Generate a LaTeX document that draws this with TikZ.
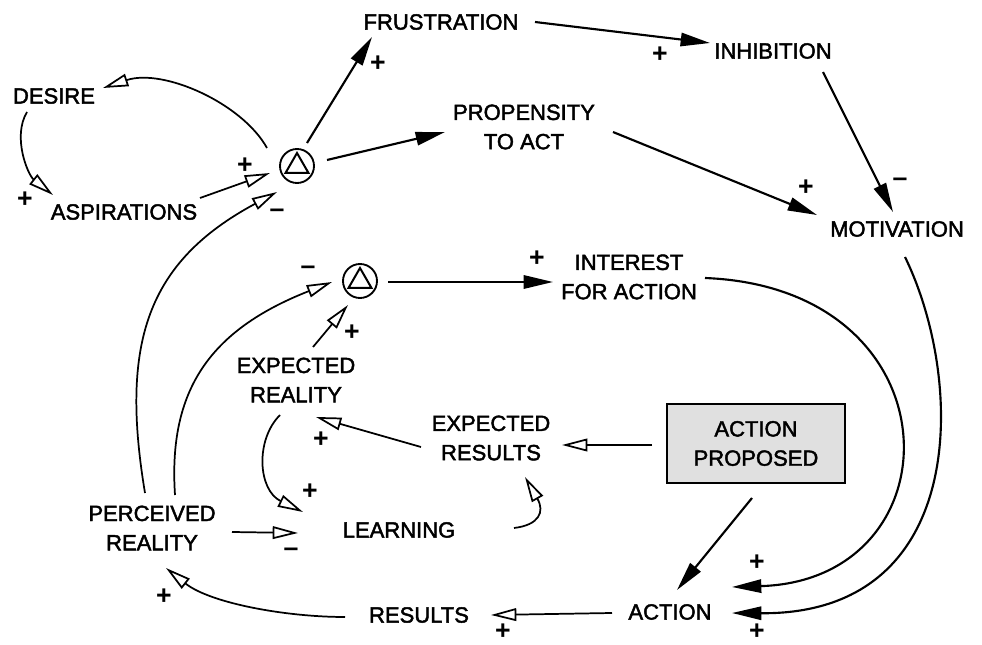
\documentclass[tikz,border=0pt]{standalone}
\usepackage{fontspec}
\setmainfont{Liberation Sans}
\newfontfamily\labelfont{Liberation Sans}[FakeBold=2]
\usetikzlibrary{arrows.meta}
\begin{document}
\begin{tikzpicture}[x=0.75pt,y=-0.75pt,
  lbl/.style={inner sep=0pt, font=\labelfont\fontsize{16.5}{22}\selectfont, align=center},
  sgn/.style={inner sep=0pt, font=\fontsize{20}{20}\selectfont\bfseries},
  box/.style={lbl, draw, line width=1.6pt, fill=black!12,
    minimum width=133.5pt, minimum height=59pt},
  cmp/.style={circle, draw, line width=1.4pt, minimum size=25.5pt, inner sep=0pt,
    path picture={\draw[line width=1.5pt, line join=miter]
      ([shift={(-11.5,7)}]path picture bounding box.center) --
      ([shift={(11.5,7)}]path picture bounding box.center) --
      ([shift={(0,-13)}]path picture bounding box.center) -- cycle;}},
  fa/.style={line width=1.6pt, -{Triangle[length=22pt,width=10pt]}},
  ha/.style={line width=1.3pt, -{Triangle[open,length=19pt,width=9.5pt,fill=white]}},
]
\fill[white] (0,0) rectangle (982,645);
\useasboundingbox (0,0) rectangle (982,645);

% variables
\node[lbl] (desire) at (54,96) {DESIRE};
\node[lbl] (asp) at (124,212) {ASPIRATIONS};
\node[cmp] (c1) at (297,166) {};
\node[lbl] (frus) at (441,22) {FRUSTRATION};
\node[lbl] (inhib) at (773,51) {INHIBITION};
\node[lbl] (prop) at (524,127) {PROPENSITY\\TO ACT};
\node[lbl] (motiv) at (897,229) {MOTIVATION};
\node[cmp] (c2) at (360,281) {};
\node[lbl] (interest) at (629,277) {INTEREST\\FOR ACTION};
\node[lbl] (exreal) at (296,380) {EXPECTED\\REALITY};
\node[lbl] (exres) at (491,438) {EXPECTED\\RESULTS};
\node[box] (ap) at (756,443.5) {ACTION\\PROPOSED};
\node[lbl] (perc) at (152,528) {PERCEIVED\\REALITY};
\node[lbl] (learn) at (399,530) {LEARNING};
\node[lbl] (results) at (419,615) {RESULTS};
\node[lbl] (action) at (670,612) {ACTION};

% causal links with solid heads
\draw[fa] ([shift={(10,-23)}]c1.center) -- ([shift={(-69,15)}]frus.center);
\draw[fa] ([shift={(30,-6)}]c1.center) -- ([shift={(-79,5)}]prop.center);
\draw[fa] ([shift={(94,0)}]frus.center) -- ([shift={(-63,-8)}]inhib.center);
\draw[fa] ([shift={(89,5)}]prop.center) -- ([shift={(-80,-14)}]motiv.center);
\draw[fa] ([shift={(50,21)}]inhib.center) -- ([shift={(-4,-17)}]motiv.center);
\draw[fa] ([shift={(28,1)}]c2.center) -- ([shift={(-76,5)}]interest.center);
\draw[fa] ([shift={(76,1)}]interest.center) .. controls +(255,10) and +(228,-7) .. ([shift={(62,-25)}]action.center);
\draw[fa] ([shift={(8,28)}]motiv.center) .. controls +(60,123) and +(238,2) .. ([shift={(62,1)}]action.center);
\draw[fa] ([shift={(-4,54.5)}]ap.center) -- ([shift={(7,-22)}]action.center);

% causal links with open heads
\draw[ha] ([shift={(-30,-18)}]c1.center) .. controls +(-25,-45) and +(60,-20) .. ([shift={(49,-8)}]desire.center);
\draw[ha] ([shift={(-27,16)}]desire.center) .. controls +(-15,25) and +(-25,-20) .. ([shift={(-71,-17)}]asp.center);
\draw[ha] ([shift={(76,-14)}]asp.center) -- ([shift={(-27,7)}]c1.center);
\draw[ha] ([shift={(-7,-35)}]perc.center) .. controls +(-25,-150) and +(-130,70) .. ([shift={(-20,26)}]c1.center);
\draw[ha] ([shift={(23,-33)}]perc.center) .. controls +(-7,-105) and +(-122,48) .. ([shift={(-28,1)}]c2.center);
\draw[ha] ([shift={(17,-33)}]exreal.center) -- ([shift={(-12,24)}]c2.center);
\draw[ha] ([shift={(-104,1.5)}]ap.center) -- ([shift={(71,7)}]exres.center);
\draw[ha] ([shift={(-58,1)}]action.center) -- ([shift={(72,0)}]results.center);
\draw[ha] ([shift={(-74,2)}]results.center) .. controls +(-60,0) and +(44,35) .. ([shift={(14,40)}]perc.center);
\draw[ha] ([shift={(-70,9)}]exres.center) -- ([shift={(20,37)}]exreal.center);
\draw[ha] ([shift={(-16,35)}]exreal.center) .. controls +(-25,25) and +(-45,-22) .. ([shift={(-96,-18)}]learn.center);
\draw[ha] ([shift={(80,4)}]perc.center) -- ([shift={(-101,3)}]learn.center);
\draw[ha] ([shift={(115,-2)}]learn.center) .. controls +(25,-3) and +(20,35) .. ([shift={(34,39)}]exres.center);

% polarity signs
\node[sgn] (p1) at (378,64) {+};
\node[sgn] (p2) at (660,55) {+};
\node[sgn] (p3) at (806,188) {+};
\node[sgn] (m1) at (900,182) {–};
\node[sgn] (p4) at (25,200) {+};
\node[sgn] (p5) at (245,166) {+};
\node[sgn] (m2) at (277,213) {–};
\node[sgn] (m3) at (308,270) {–};
\node[sgn] (p6) at (537,259) {+};
\node[sgn] (p7) at (352,333) {+};
\node[sgn] (p8) at (757,563) {+};
\node[sgn] (p9) at (757,632) {+};
\node[sgn] (p10) at (503,632) {+};
\node[sgn] (p11) at (164,597) {+};
\node[sgn] (p12) at (321,440) {+};
\node[sgn] (p13) at (310,492) {+};
\node[sgn] (m4) at (291,552) {–};
\end{tikzpicture}
\end{document}
